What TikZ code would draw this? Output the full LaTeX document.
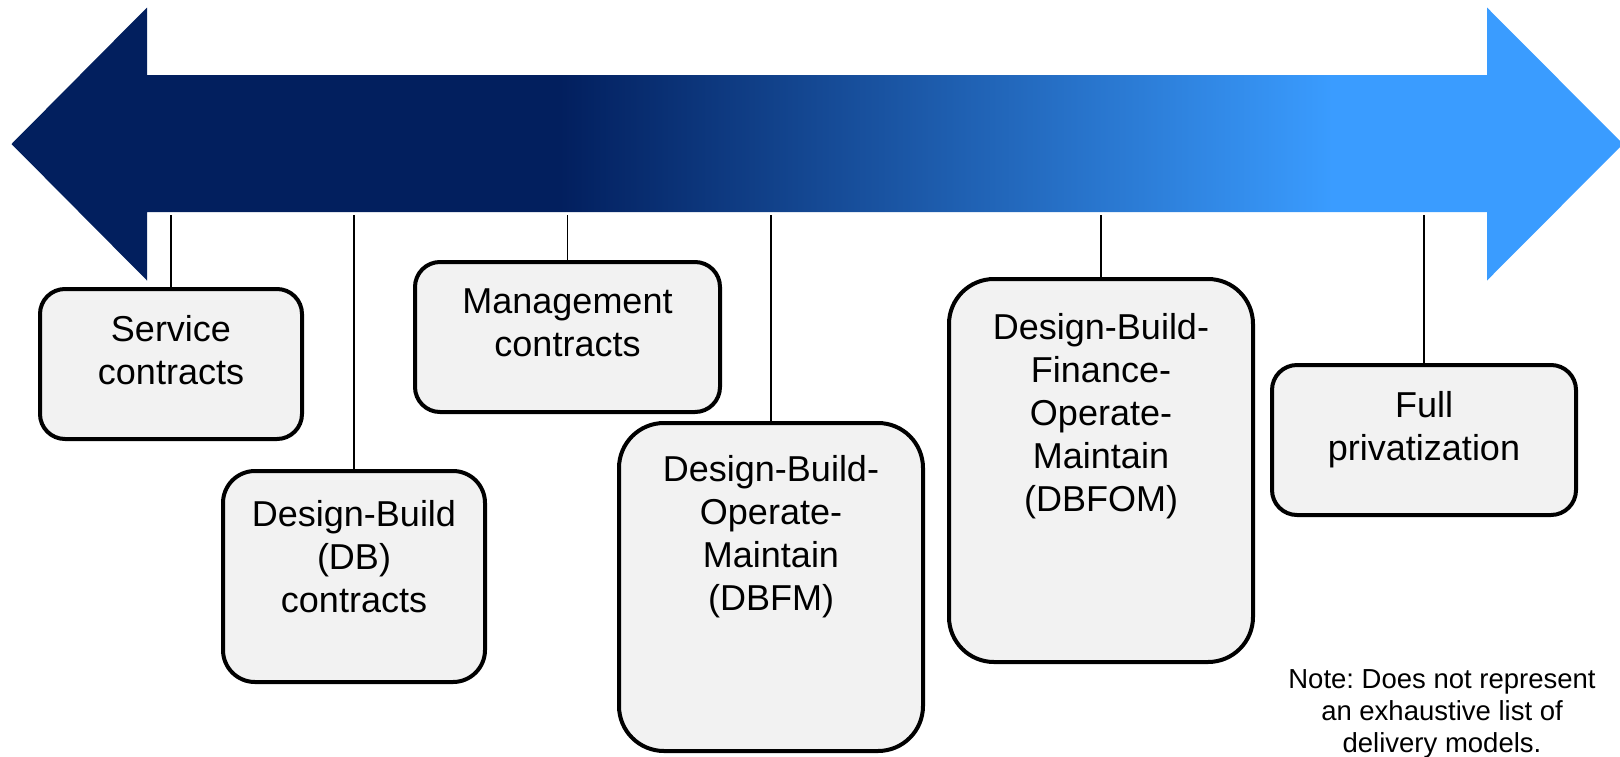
\documentclass[tikz,border=0pt]{standalone}
\usepackage{fontspec}
\setmainfont{Liberation Sans}
\definecolor{navy}{RGB}{2,31,94}
\definecolor{sky}{RGB}{58,156,255}
\definecolor{boxfill}{RGB}{242,242,242}
\pgfdeclarehorizontalshading{arrowshade}{100bp}{color(0bp)=(navy); color(42bp)=(navy); color(66bp)=(sky); color(100bp)=(sky)}
\newcommand\firstlinestrut{\rule{0pt}{36pt}}
\newcommand\notestrut{\rule{0pt}{28pt}}
\frenchspacing
\begin{document}
\begin{tikzpicture}[x=1pt,y=-1pt,
  box/.style={draw=black, line width=4pt, fill=boxfill, rounded corners=#1, inner sep=0pt, shape=rectangle},
  box/.default=25pt,
  lbl/.style={font=\fontsize{36}{43}\selectfont, align=center, inner sep=0pt, anchor=north, text=black},
  notetext/.style={font=\fontsize{27.5}{32}\selectfont, align=center, inner sep=0pt, anchor=north, text=black},
  conn/.style={draw=black, line width=1.5pt}]
\useasboundingbox (0,0) rectangle (1620,756);
% big double arrow
\shade[shading=arrowshade] (11.5,144) -- (147,7.5) -- (147,75) -- (1487,75) -- (1487,7.5) -- (1623,144)
  -- (1487,280.5) -- (1487,212) -- (147,212) -- (147,280.5) -- cycle;
\coordinate (shaft) at (0,215);
% boxes
\node[box, minimum width=262pt, minimum height=150pt] (s1) at (171,364) {};
\node[box, minimum width=305pt, minimum height=150pt] (s2) at (567.5,337) {};
\node[box=32pt, minimum width=262pt, minimum height=211pt] (s3) at (354,576.5) {};
\node[box=45pt, minimum width=304pt, minimum height=328pt] (s4) at (771,587) {};
\node[box=45pt, minimum width=304pt, minimum height=383pt] (s5) at (1101,470.5) {};
\node[box, minimum width=304pt, minimum height=150pt] (s6) at (1424,440) {};
% texts
\node[lbl] (t1) at ([yshift=-18.5pt]s1.north) {\firstlinestrut Service\\contracts};
\node[lbl] (t2) at ([yshift=-17.5pt]s2.north) {\firstlinestrut Management\\contracts};
\node[lbl] (t3) at ([yshift=-21.5pt]s3.north) {\firstlinestrut Design-Build\\(DB)\\contracts};
\node[lbl] (t4) at ([yshift=-24.5pt]s4.north) {\firstlinestrut Design-Build-\\Operate-\\Maintain\\(DBFM)};
\node[lbl] (t5) at ([yshift=-26.5pt]s5.north) {\firstlinestrut Design-Build-\\Finance-\\Operate-\\Maintain\\(DBFOM)};
\node[lbl] (t6) at ([yshift=-18.5pt]s6.north) {\firstlinestrut Full\\privatization};
% connectors
\foreach \b in {s1,s2,s3,s4,s5,s6}{
  \draw[conn] (\b.north) -- (\b.north |- shaft);
}
% note
\node[notetext] (note) at (1442,660) {\notestrut Note: Does not represent\\an exhaustive list of\\delivery models.};
\end{tikzpicture}
\end{document}
